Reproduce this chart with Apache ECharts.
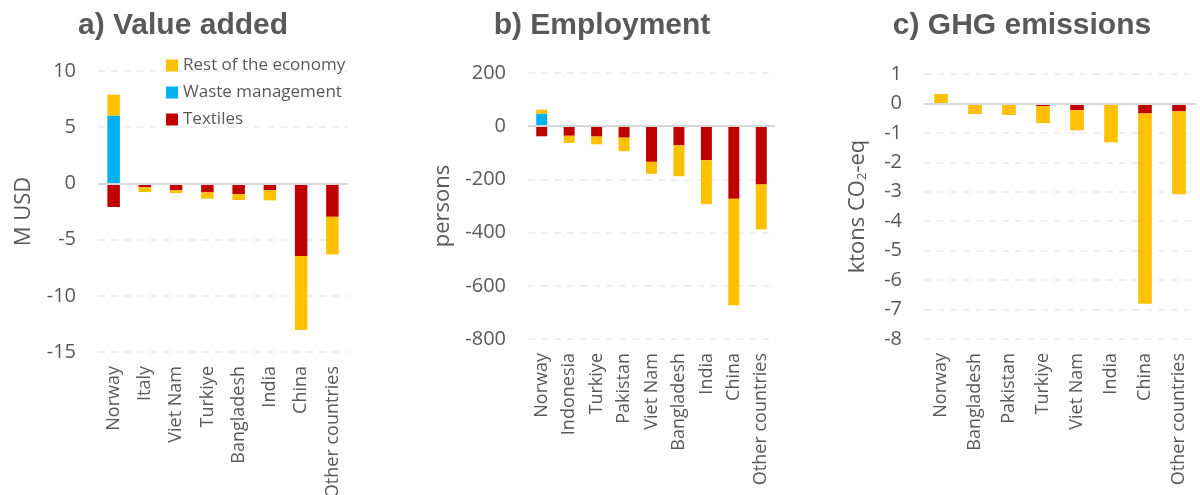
<!DOCTYPE html>
<html>
<head>
<meta charset="utf-8">
<script src="https://cdn.jsdelivr.net/npm/echarts@6/dist/echarts.min.js"></script>
<style>
  html, body { margin: 0; padding: 0; background: #ffffff; }
  #chart { width: 1200px; height: 495px; }
</style>
</head>
<body>
<div id="chart"></div>
<script>
// a) Value added, M USD
const categoriesA = ['Norway', 'Italy', 'Viet Nam', 'Turkiye', 'Bangladesh', 'India', 'China', 'Other countries'];
const textilesA = [-2.1, -0.35, -0.62, -0.8, -0.95, -0.6, -6.47, -2.97];
const wasteA = [6.05, 0, 0, 0, 0, 0, 0, 0];
const restA = [1.85, -0.42, -0.24, -0.56, -0.53, -0.91, -6.58, -3.35];

// b) Employment, persons
const categoriesB = ['Norway', 'Indonesia', 'Turkiye', 'Pakistan', 'Viet Nam', 'Bangladesh', 'India', 'China', 'Other countries'];
const textilesB = [-38, -36, -39, -43, -134, -72, -128, -273, -219];
const wasteB = [47, 0, 0, 0, 0, 0, 0, 0, 0];
const restB = [15, -27, -29, -51, -45, -116, -165, -400, -169];

// c) GHG emissions, ktons CO2-eq
const categoriesC = ['Norway', 'Bangladesh', 'Pakistan', 'Turkiye', 'Viet Nam', 'India', 'China', 'Other countries'];
const textilesC = [0, 0, 0, -0.09, -0.23, -0.03, -0.34, -0.27];
const wasteC = [0, 0, 0, 0, 0, 0, 0, 0];
const restC = [0.32, -0.36, -0.39, -0.58, -0.68, -1.29, -6.46, -2.81];

const seriesNames = ['Textiles', 'Waste management', 'Rest of the economy'];
const seriesColors = ['#C00000', '#00B0F0', '#FFC000'];

const TEXT = '#595959';
const FONT = 'Open Sans';

const panels = [
  { title: 'a) Value added', titleX: 178, grid: { left: 98, top: 71, width: 250, height: 281 },
    cats: categoriesA, data: [textilesA, wasteA, restA], min: -15, max: 10, interval: 5,
    name: 'M USD', nameGap: 63 },
  { title: 'b) Employment', titleX: 597, grid: { left: 528, top: 73, width: 247, height: 266 },
    cats: categoriesB, data: [textilesB, wasteB, restB], min: -800, max: 200, interval: 200,
    name: 'persons', nameGap: 74 },
  { title: 'c) GHG emissions', titleX: 1017, grid: { left: 924, top: 74, width: 272, height: 265 },
    cats: categoriesC, data: [textilesC, wasteC, restC], min: -8, max: 1, interval: 1,
    name: '{t|ktons CO}{s|2}{t|-eq}', nameGap: 55 }
];

const option = {
  animation: false,
  backgroundColor: '#ffffff',
  textStyle: { fontFamily: FONT, color: TEXT },
  title: panels.map(p => ({
    text: p.title,
    left: p.titleX,
    top: 6,
    textAlign: 'center',
    textStyle: { fontFamily: 'Liberation Sans', fontWeight: 'bold', fontSize: 30, color: TEXT }
  })),
  legend: {
    data: ['Rest of the economy', 'Waste management', 'Textiles'],
    orient: 'vertical',
    left: 166,
    top: 57,
    padding: 0,
    itemWidth: 12,
    itemHeight: 12,
    itemGap: 10,
    icon: 'rect',
    textStyle: { fontFamily: FONT, fontSize: 17, color: TEXT }
  },
  // plot areas keep their set size; long labels may run off the bottom edge
  grid: panels.map(p => Object.assign({ outerBoundsMode: 'none' }, p.grid)),
  xAxis: panels.map((p, i) => ({
    type: 'category',
    gridIndex: i,
    data: p.cats,
    axisLine: { show: false, onZero: false },
    axisTick: { show: false },
    axisLabel: { rotate: 90, margin: 14, fontSize: 18, color: TEXT, fontFamily: FONT, interval: 0 }
  })),
  yAxis: panels.map((p, i) => ({
    type: 'value',
    gridIndex: i,
    min: p.min,
    max: p.max,
    interval: p.interval,
    name: p.name,
    nameLocation: 'middle',
    nameRotate: 90,
    nameGap: p.nameGap,
    nameTextStyle: {
      fontSize: 22, color: TEXT, fontFamily: FONT,
      rich: {
        t: { fontSize: 22, color: TEXT, fontFamily: FONT, lineHeight: 26, verticalAlign: 'bottom' },
        s: { fontSize: 13, color: TEXT, fontFamily: FONT, lineHeight: 13, verticalAlign: 'bottom' }
      }
    },
    axisLine: { show: false },
    axisTick: { show: false },
    axisLabel: { fontSize: 20, color: TEXT, fontFamily: FONT, margin: 22 },
    splitLine: { show: true, lineStyle: { color: '#ebebeb', width: 1.5, type: [7, 6] } }
  })),
  series: []
};

panels.forEach((p, i) => {
  seriesNames.forEach((name, k) => {
    const s = {
      name: name,
      type: 'bar',
      xAxisIndex: i,
      yAxisIndex: i,
      stack: 'panel' + i,
      barWidth: '40%',
      itemStyle: { color: seriesColors[k] },
      data: p.data[k]
    };
    if (k === 0) {
      // zero baseline across the plot
      s.markLine = {
        silent: true,
        symbol: 'none',
        label: { show: false },
        lineStyle: { color: '#d9d9d9', width: 2, type: 'solid' },
        data: [{ yAxis: 0 }],
        z: 10
      };
    }
    option.series.push(s);
  });
});

const chart = echarts.init(document.getElementById('chart'), null, { renderer: 'canvas' });
chart.setOption(option);
</script>
</body>
</html>
